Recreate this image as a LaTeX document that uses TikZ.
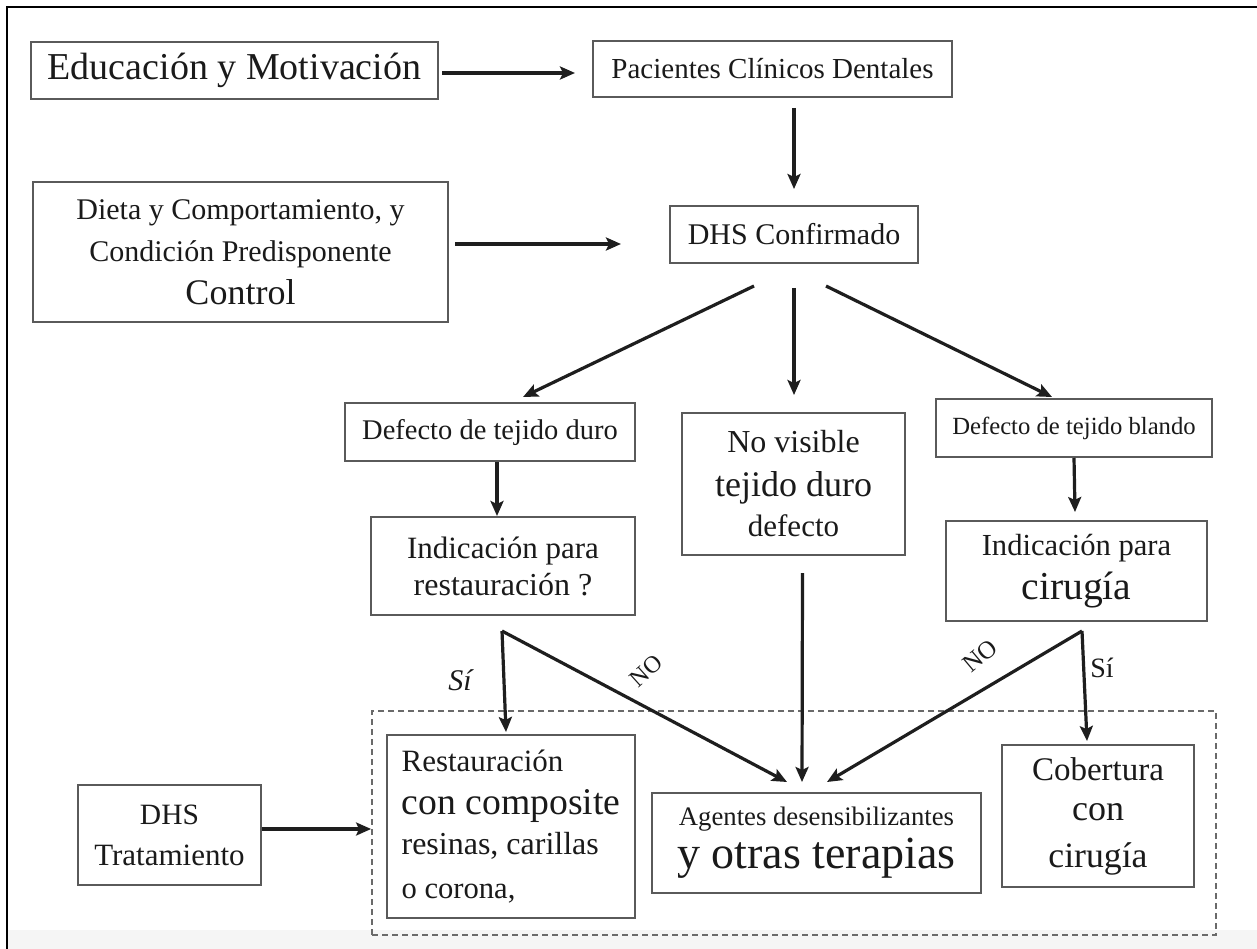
\documentclass[tikz,border=0pt]{standalone}
\usepackage{fontspec}
\setmainfont{Liberation Serif}
\usetikzlibrary{arrows.meta,calc}
\newcommand\fsz[2]{\fontsize{#1}{#2}\selectfont}
\definecolor{boxc}{HTML}{5A5A5A}
\definecolor{arrc}{HTML}{1E1E1E}
\definecolor{txtc}{HTML}{1A1A1A}
\definecolor{bandc}{HTML}{F5F5F5}
\definecolor{dashc}{HTML}{6A6A6A}
\begin{document}
\begin{tikzpicture}[x=1pt,y=-1pt,
  box/.style={draw=boxc,line width=2pt,rectangle,inner sep=0pt,text=txtc,align=center},
  arr/.style={draw=arrc,line width=3.2pt,-{Stealth[length=15pt,width=13pt,inset=3pt]}},
  lbl/.style={text=txtc,inner sep=0pt}]
\useasboundingbox (0,0) rectangle (1257,949);
\fill[white] (0,0) rectangle (1257,949);
\fill[bandc] (7,930) rectangle (1257,949);
\draw[line width=2.5pt,black] (7,949) -- (7,7) -- (1257,7);

% dashed group
\node[draw=dashc,line width=1.8pt,dash pattern=on 6pt off 4pt,rectangle,inner sep=0pt,
      minimum width=844pt,minimum height=224pt] (grp) at (794,823) {};

% boxes
\node[box,minimum width=407pt,minimum height=57pt] (edu) at (234.5,70.5) {\fsz{38}{40}Educación y Motivación};
\node[box,minimum width=359pt,minimum height=56pt] (pac) at (772.5,69) {\fsz{29}{32}Pacientes Clínicos Dentales};
\node[box,minimum width=415pt,minimum height=140pt,font=\fsz{30}{42.5}] (dieta) at (240.5,252)
  {Dieta y Comportamiento, y\\ Condición Predisponente\\ {\fsz{36}{40}Control}};
\node[box,minimum width=248pt,minimum height=57pt] (dhs) at (794,234.5) {\fsz{30}{32}DHS Confirmado};
\node[box,minimum width=290pt,minimum height=58pt] (duro) at (490,432) {\fsz{28.5}{30}Defecto de tejido duro};
\node[box,minimum width=223pt,minimum height=142pt,font=\fsz{32}{42}] (novis) at (793.5,484)
  {No visible\\[2pt] {\fsz{36}{40}tejido duro}\\[-2pt] {\fsz{31}{34}defecto}};
\node[box,minimum width=276pt,minimum height=58pt] (blando) at (1074,428) {\fsz{24.7}{27}Defecto de tejido blando};
\node[box,minimum width=264pt,minimum height=98pt,font=\fsz{31}{37}] (indrest) at (503,566)
  {Indicación para\\ {\fsz{32}{35}restauración ?}};
\node[box,minimum width=261pt,minimum height=100pt,font=\fsz{30.6}{44}] (indcir) at (1076.5,571)
  {Indicación para\\ {\fsz{39.6}{42}cirugía}};
\node[box,minimum width=183pt,minimum height=100pt,font=\fsz{30}{41}] (trat) at (169.5,835)
  {{\fsz{29.5}{32}DHS}\\ {\fsz{31}{34}Tratamiento}};
\node[box,minimum width=248pt,minimum height=183pt,align=left,font=\fsz{31}{42}] (rest) at (511,826.5)
  {Restauración\\[1pt] {\fsz{37.7}{40}con composite}\\[-2pt] {\fsz{32}{35}resinas, carillas}\\[2pt] {\fsz{30.6}{33}o corona,}};
\node[box,minimum width=329pt,minimum height=100pt,font=\fsz{26.7}{43}] (agentes) at (816.5,843)
  {Agentes desensibilizantes\\ {\fsz{46}{48}y otras terapias}};
\node[box,minimum width=192pt,minimum height=142pt,font=\fsz{34}{40}] (cob) at (1098,816)
  {{\fsz{33}{36}Cobertura}\\ {\fsz{36}{38}con}\\[7pt] {\fsz{35.7}{38}cirugía}};

% helper coordinates
\coordinate (e1) at ([yshift=-2.5pt]edu.east);
\coordinate (d1) at ([yshift=8pt]dieta.east);
\coordinate (t1) at ([yshift=6pt]trat.east);
\coordinate (la) at ($(indrest.south)+(-1,15)$);
\coordinate (ra) at ($(indcir.south)+(5.5,9)$);

% connectors
\draw[arr,shorten <=3pt,shorten >=17pt] (e1) -- (e1 -| pac.west);
\draw[arr,shorten <=10pt,shorten >=16pt] (pac.south -| dhs.north) -- (dhs.north);
\draw[arr,shorten <=6pt,shorten >=48pt] (d1) -- (d1 -| dhs.west);
\draw[arr] ($(dhs.south)+(-40,22)$) -- ($(duro.north)+(33,-5)$);
\draw[arr,shorten <=24pt,shorten >=17pt] (dhs.south) -- (dhs.south |- novis.north);
\draw[arr] ($(dhs.south)+(32,22)$) -- ($(blando.north)+(-22,-1)$);
\draw[arr] ($(duro.south)+(7,0)$) -- ($(indrest.north)+(-6,0)$);
\draw[arr] (blando.south) -- ($(indcir.north)+(-1.5,-8)$);
\draw[arr] (la) -- ($(rest.north)+(-5,-2)$);
\draw[arr] (la) -- ($(agentes.north)+(-29.5,-10)$);
\draw[arr] ($(novis.south)+(9,17)$) -- ($(agentes.north)+(-14.5,-10)$);
\draw[arr] (ra) -- ($(agentes.north)+(10.5,-10)$);
\draw[arr] (ra) -- ($(cob.north)+(-11,-3)$);
\draw[arr] (t1) -- (t1 -| grp.west);

% labels
\node[lbl,font=\fsz{30}{30}\itshape] (si1) at (460,680) {Sí};
\node[lbl,font=\fsz{24}{24},rotate=42] (no1) at (646,671) {NO};
\node[lbl,font=\fsz{25}{25},rotate=40] (no2) at (980,656) {NO};
\node[lbl,font=\fsz{28}{28}] (si2) at (1102,668) {Sí};
\end{tikzpicture}
\end{document}
